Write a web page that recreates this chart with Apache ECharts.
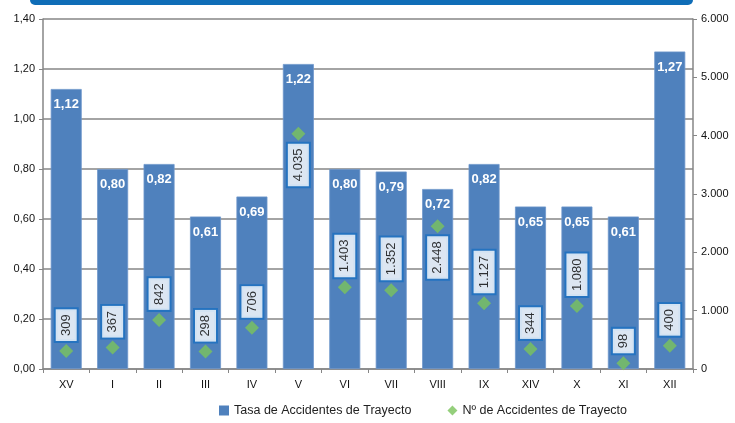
<!DOCTYPE html>
<html><head><meta charset="utf-8">
<script src="https://cdn.jsdelivr.net/npm/echarts@6/dist/echarts.min.js"></script>
<style>html,body{margin:0;padding:0;background:#fff}#c{width:735px;height:423px}</style>
</head><body><div id="c"></div>
<script>
const categories = ['XV','I','II','III','IV','V','VI','VII','VIII','IX','XIV','X','XI','XII'];
const tasa = [1.12,0.80,0.82,0.61,0.69,1.22,0.80,0.79,0.72,0.82,0.65,0.65,0.61,1.27];
const numero = [309,367,842,298,706,4035,1403,1352,2448,1127,344,1080,98,400];
const labelBelow = [false,false,false,false,false,true,false,false,true,false,false,false,false,false];
const leftTicks = ['0,00','0,20','0,40','0,60','0,80','1,00','1,20','1,40'];
const rightTicks = ['0','1.000','2.000','3.000','4.000','5.000','6.000'];

const fmtThousands = v => String(v).replace(/\B(?=(\d{3})+(?!\d))/g, '.');
const FONT = 'Liberation Sans';

const chart = echarts.init(document.getElementById('c'), null, {renderer:'canvas'});
chart.setOption({
  animation:false,
  textStyle:{fontFamily:FONT},
  graphic:[{type:'rect', shape:{x:30,y:-6,width:663,height:11,r:5}, style:{fill:'#0f6db7'}}],
  legend:{
    bottom:1, left:214, itemGap:36, itemWidth:10, itemHeight:10,
    textStyle:{fontSize:12.5,color:'#222',fontFamily:FONT},
    itemStyle:{borderWidth:0},
    data:[{name:'Tasa de Accidentes de Trayecto',icon:'rect'},{name:'Nº de Accidentes de Trayecto',icon:'diamond'}]
  },
  grid:{left:43,right:42,top:19,bottom:54},
  xAxis:{
    type:'category', data:categories,
    axisLine:{lineStyle:{color:'#868686',width:1.5}},
    axisTick:{show:true,length:4,lineStyle:{color:'#868686'}},
    axisLabel:{color:'#111',fontSize:11,margin:10}
  },
  yAxis:[{
    type:'value', min:0, max:1.4, interval:0.2,
    axisLine:{show:true,lineStyle:{color:'#868686',width:1.5}},
    axisTick:{show:true,length:4,lineStyle:{color:'#868686'}},
    splitLine:{lineStyle:{color:'#868686',width:1.5}},
    axisLabel:{color:'#111',fontSize:11,margin:8,formatter:(v)=>leftTicks[Math.round(v/0.2)]}
  },{
    type:'value', min:0, max:6000, interval:1000,
    axisLine:{show:true,lineStyle:{color:'#868686',width:1.5}},
    axisTick:{show:true,length:4,lineStyle:{color:'#868686'}},
    splitLine:{show:false},
    axisLabel:{color:'#111',fontSize:11,margin:8,formatter:(v)=>rightTicks[Math.round(v/1000)]}
  }],
  series:[{
    name:'Tasa de Accidentes de Trayecto', type:'bar', yAxisIndex:0,
    data:tasa, barWidth:31,
    itemStyle:{color:'#4f81bd',borderColor:'#6f97cb',borderWidth:0.8},
    label:{show:true,position:'insideTop',distance:9,color:'#fff',fontWeight:'bold',fontSize:13,
      formatter:(p)=>p.value.toFixed(2).replace('.',',')}
  },{
    name:'Nº de Accidentes de Trayecto', type:'scatter', yAxisIndex:1,
    symbol:'diamond', symbolSize:14, z:5,
    itemStyle:{color:'#7ac35b'},
    data:numero.map((v,i)=>({
      value:v,
      label:labelBelow[i]
        ? {position:'bottom',align:'right',verticalAlign:'middle',distance:3}
        : {position:'top',align:'left',verticalAlign:'middle',distance:3}
    })),
    label:{show:true,rotate:90,color:'#000',fontSize:13,fontFamily:FONT,
      backgroundColor:'#ffffff',borderColor:'#1a6fc0',borderWidth:2,padding:[4,5,4,5],
      formatter:(p)=>fmtThousands(p.value)}
  }]
});
</script></body></html>
